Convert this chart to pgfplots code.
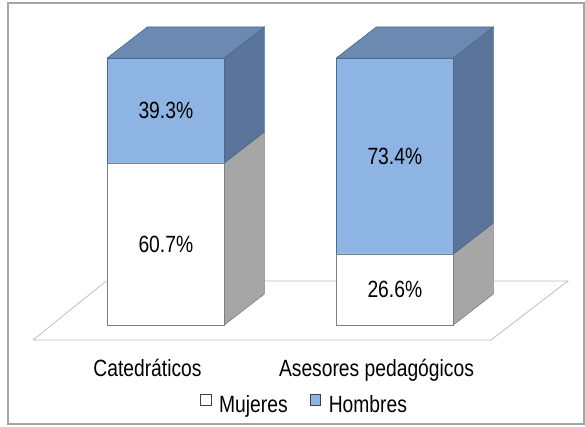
\documentclass[border=0pt]{standalone}
\usepackage{pgfplots}
\pgfplotsset{compat=1.18}
\usepackage{fontspec}
\setmainfont{Liberation Sans}[FakeStretch=0.82]
\definecolor{bfront}{HTML}{8EB4E3}
\definecolor{btop}{HTML}{6C8AB1}
\definecolor{bside}{HTML}{5A7599}
\definecolor{bline}{HTML}{4A6890}
\definecolor{gside}{HTML}{A6A6A6}
\definecolor{gline}{HTML}{7F7F7F}
\definecolor{floorline}{HTML}{BFBFBF}
\definecolor{frame}{HTML}{A6A6A6}
\pgfplotsset{
  base/.style={x=229pt, y=2.67pt, xmin=-0.6441, xmax=1.9105, ymin=-5.62, ymax=121.72,
    at={(0,0)}, anchor=south west, clip=false, font=\fontsize{23.5}{28}\selectfont},
}
\begin{document}
\begin{tikzpicture}
% floor, side and top faces
\begin{axis}[base, hide axis]
\addplot[fill=white, draw=floorline, line width=0.8pt] coordinates {(-0.5,-5.62) (1.5,-5.62) (1.836,16.48) (-0.18,16.48) (-0.5,-5.62)};
% bar 1 sides
\addplot[fill=gside, draw=gline, line width=0.6pt] coordinates {(0.3355,0) (0.5102,11.61) (0.5102,72.31) (0.3355,60.7) (0.3355,0)};
\addplot[fill=bside, draw=bline, line width=0.6pt] coordinates {(0.3355,60.7) (0.5102,72.31) (0.5102,111.61) (0.3355,100) (0.3355,60.7)};
\addplot[fill=btop, draw=bline, line width=0.6pt] coordinates {(-0.1755,100) (-0.0008,111.61) (0.5102,111.61) (0.3355,100) (-0.1755,100)};
% bar 2 sides
\addplot[fill=gside, draw=gline, line width=0.6pt] coordinates {(1.3355,0) (1.5102,11.61) (1.5102,38.21) (1.3355,26.6) (1.3355,0)};
\addplot[fill=bside, draw=bline, line width=0.6pt] coordinates {(1.3355,26.6) (1.5102,38.21) (1.5102,111.61) (1.3355,100) (1.3355,26.6)};
\addplot[fill=btop, draw=bline, line width=0.6pt] coordinates {(0.8245,100) (0.9992,111.61) (1.5102,111.61) (1.3355,100) (0.8245,100)};
\coordinate (bbsw) at (axis cs:-0.6441,-38.2);
\coordinate (bbne) at (axis cs:1.9105,121.72);
\coordinate (frsw) at (axis cs:-0.6092,-37.08);
\coordinate (frne) at (axis cs:1.9061,120.6);
\end{axis}
% front faces
\begin{axis}[base, ybar stacked, bar width=0.511,
  axis y line=none, axis x line=bottom, x axis line style={draw=none},
  xtick={0,1}, xticklabels={Catedráticos, Asesores pedagógicos},
  major tick length=0pt, ytick=\empty,
  xticklabel style={anchor=base, yshift=-36.5pt},
  legend columns=2,
  legend image code/.code={\draw[#1, draw=black!75, line width=0.6pt] (0pt,0pt) rectangle (10.5pt,10.5pt);},
  legend style={draw=none, fill=none, at={(0.5205,-0.1915)}, anchor=center,
    font=\fontsize{23.5}{28}\selectfont, column sep=6pt,
    /tikz/every even column/.append style={column sep=20pt}},
]
\addplot[fill=white, draw=gline, line width=0.6pt] coordinates {(0.08,60.7) (1.08,26.6)};
\addplot[fill=bfront, draw=bline, line width=0.6pt] coordinates {(0.08,39.3) (1.08,73.4)};
\legend{Mujeres, Hombres}
\end{axis}
% data labels
\begin{axis}[base, hide axis]
\addplot[draw=none, nodes near coords, point meta=explicit symbolic,
  every node near coord/.style={anchor=center, text=black, font=\fontsize{23.5}{28}\selectfont}]
  coordinates {(0.08,80.35)[39.3\%] (0.08,30.35)[60.7\%] (1.08,63.3)[73.4\%] (1.08,13.3)[26.6\%]};
\end{axis}
\draw[frame, line width=1.3pt] (frsw) rectangle (frne);
\pgfresetboundingbox
\useasboundingbox (bbsw) rectangle (bbne);
\end{tikzpicture}
\end{document}
